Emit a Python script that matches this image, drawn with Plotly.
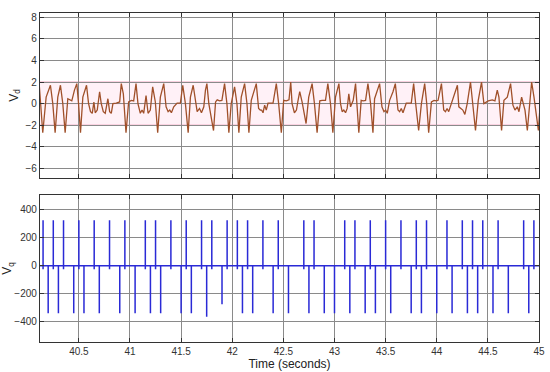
import plotly.graph_objects as go

# ---- Vd waveform (time in s, value) ----
vd_t = [40.114, 40.147, 40.180, 40.222, 40.245, 40.268, 40.294, 40.320, 40.343, 40.366,
        40.392, 40.408, 40.431, 40.457, 40.480, 40.497, 40.516, 40.539, 40.575, 40.595,
        40.614, 40.631, 40.647, 40.660, 40.680, 40.703, 40.719, 40.739, 40.758, 40.784,
        40.801, 40.817, 40.833, 40.866, 40.899, 40.915,
        40.935, 40.961, 40.987, 41.013, 41.036, 41.059, 41.078, 41.101, 41.118, 41.134,
        41.157, 41.177, 41.199, 41.222, 41.248, 41.271, 41.297, 41.330, 41.353, 41.373,
        41.389, 41.405, 41.428, 41.461, 41.493, 41.516, 41.542, 41.569, 41.591, 41.618,
        41.641, 41.657, 41.680, 41.699, 41.722, 41.738,
        41.752, 41.771, 41.817, 41.837, 41.853, 41.876, 41.899, 41.925, 41.948, 41.967,
        41.990, 42.023, 42.046, 42.065, 42.088, 42.121, 42.144, 42.163, 42.186, 42.235,
        42.258, 42.274, 42.287, 42.301, 42.317, 42.333, 42.350, 42.399, 42.431, 42.454,
        42.480, 42.503, 42.529, 42.555,
        42.572, 42.585, 42.608, 42.628, 42.641, 42.660, 42.683, 42.706, 42.722, 42.748,
        42.781, 42.804, 42.830, 42.856, 42.879, 42.912, 42.935, 42.961, 42.984, 43.010,
        43.043, 43.059, 43.075, 43.091, 43.108, 43.124, 43.140, 43.157, 43.183, 43.206,
        43.222, 43.238, 43.261, 43.281, 43.304, 43.327, 43.353, 43.376,
        43.392, 43.418, 43.441, 43.464, 43.484, 43.500, 43.516, 43.539, 43.572, 43.595,
        43.621, 43.637, 43.653, 43.670, 43.686, 43.702, 43.751, 43.774, 43.794, 43.823,
        43.850, 43.882, 43.902, 43.921, 43.948, 43.974, 43.997, 44.013, 44.046, 44.068,
        44.085, 44.101, 44.117, 44.144, 44.176, 44.202,
        44.216, 44.232, 44.255, 44.275, 44.298, 44.330, 44.353, 44.379, 44.406, 44.438,
        44.461, 44.504, 44.543, 44.569, 44.592, 44.608, 44.634, 44.657, 44.690, 44.722,
        44.745, 44.765, 44.788, 44.804, 44.830, 44.843, 44.863, 44.886, 44.909, 44.928,
        44.951, 44.974, 44.994, 45.010]
vd_v = [1.55, -2.7, 0.6, 1.7, 0.0, -2.7, 0.6, 1.7, 0.0, -2.7,
        0.45, 0.35, 0.25, 1.25, 1.85, 0.0, -2.7, 0.6, 1.7, 0.0,
        -0.75, -0.9, 0.15, -0.85, -0.6, 1.1, 0.0, -0.75, -0.9, 0.45,
        -0.75, -0.9, 0.0, 0.05, 0.15, 1.85,
        0.9, -2.7, 0.15, 0.3, 0.25, 1.85, 0.0, -0.9, -0.6, -0.9,
        0.75, -0.9, -0.6, 1.55, 0.15, -2.7, 0.6, 1.85, -0.3, -0.75,
        -0.6, -0.85, -0.3, 0.05, 0.05, 1.7, 0.0, -2.7, 0.6, 1.7,
        0.15, -0.75, -0.45, -0.85, -0.3, 1.25,
        1.85, 0.0, -2.5, 0.15, 0.35, 0.25, 0.3, 1.85, 0.0, -2.7,
        0.0, 1.55, 0.0, -2.7, 0.6, 1.85, 0.0, -2.7, 0.3, 1.85,
        -0.45, -0.6, -0.6, -0.85, -0.15, -0.6, 0.05, 0.05, 1.85, 0.0,
        -2.7, 0.3, 0.25, 0.35,
        2.0, 0.0, -0.85, -0.6, 0.15, 1.1, 0.15, -0.9, -1.85, 0.6,
        1.85, 0.0, -2.7, 0.25, 0.3, 0.3, 1.85, 0.0, -2.7, 0.6,
        1.85, 0.0, -0.75, -0.6, -0.85, -0.45, 0.9, -0.3, 0.3, 1.85,
        0.0, -2.7, 0.3, 0.25, 0.3, 1.85, 0.0, -2.7,
        0.45, 1.25, 1.85, -0.3, -0.75, -0.6, -0.9, 0.3, 1.1, 1.85,
        -0.6, -0.75, -0.45, -0.85, -0.3, 0.05, 0.05, 1.85, 0.0, -2.5,
        0.0, 1.85, 0.0, -2.7, 0.15, 0.3, 0.25, 0.3, 1.85, -0.6,
        -0.75, -0.45, -0.75, 0.0, 0.9, 1.7,
        -0.3, -0.45, -0.6, -1.0, 0.0, 2.0, 0.0, -2.5, 0.3, 2.0,
        0.0, 0.25, 0.35, 0.25, 1.25, 0.6, -2.5, 0.3, 0.6, 1.85,
        -0.15, -0.6, -0.3, -0.75, 0.6, 0.0, -0.6, -2.5, 0.3, 2.0,
        0.6, -0.9, -2.5, -0.3]

# ---- Vq spikes ----
vq_pos_t = [40.15, 40.25, 40.35, 40.5, 40.65, 40.8, 40.95, 41.15, 41.25, 41.4, 41.55,
            41.7, 41.8, 41.95, 42.05, 42.15, 42.3, 42.45, 42.7, 42.8, 43.1, 43.2, 43.35,
            43.5, 43.65, 43.8, 43.9, 44.1, 44.25, 44.35, 44.45, 44.6, 44.85, 44.95]
vq_pos_h = [320] * len(vq_pos_t)
vq_neg_t = [40.2, 40.3, 40.45, 40.55, 40.7, 40.9, 41.05, 41.2, 41.3, 41.5, 41.6,
            41.75, 41.9, 42.1, 42.2, 42.4, 42.55, 42.75, 42.9, 43.0, 43.15, 43.3, 43.4,
            43.55, 43.75, 43.85, 44.0, 44.15, 44.3, 44.4, 44.55, 44.7, 44.9]
vq_neg_h = [-345, -345, -345, -345, -345, -345, -345, -345, -345, -345, -345,
            -370, -280, -345, -345, -345, -345, -345, -345, -345, -345, -345, -345,
            -345, -345, -345, -345, -345, -345, -345, -345, -345, -345]
vq_base = -5
vq_dip = -30

events = sorted([(t, h, True) for t, h in zip(vq_pos_t, vq_pos_h)] +
                [(t, h, False) for t, h in zip(vq_neg_t, vq_neg_h)])
qx, qy = [40.1], [vq_base]
for t, h, pos in events:
    qx += [t, t, t, t]
    qy += [vq_base, h, vq_dip if pos else vq_base, vq_base]
qx.append(45.0)
qy.append(vq_base)

fig = go.Figure()

# faint pink band around the Vd trace
fig.add_shape(type="rect", xref="x", yref="y", x0=40.1, x1=45, y0=-2, y1=2,
              fillcolor="rgba(255,205,228,0.28)", line_width=0, layer="below")
for yv in [-2, 0, 2]:
    fig.add_shape(type="line", xref="x", yref="y", x0=40.1, x1=45, y0=yv, y1=yv,
                  line=dict(color="rgba(235,120,160,0.7)", width=1), layer="below")

fig.add_trace(go.Scatter(x=vd_t, y=vd_v, mode="lines",
                         line=dict(color="#a0502a", width=1.3),
                         xaxis="x", yaxis="y", showlegend=False))
fig.add_trace(go.Scatter(x=qx, y=qy, mode="lines",
                         line=dict(color="#2a2ad6", width=1.5),
                         xaxis="x2", yaxis="y2", showlegend=False))

axis_common = dict(showline=True, linecolor="#333", linewidth=1.2, mirror="ticks",
                   ticks="inside", ticklen=4, tickcolor="#333", automargin=False,
                   showgrid=True, gridcolor="#8a8a8a", gridwidth=1, zeroline=False,
                   tickfont=dict(family="Liberation Sans, Arial", size=10, color="#333"))

xr = [40.12, 45.0]
xt = [40.5, 41, 41.5, 42, 42.5, 43, 43.5, 44, 44.5, 45]

fig.update_layout(
    width=550, height=372,
    margin=dict(l=40, r=11, t=13, b=30),
    paper_bgcolor="white", plot_bgcolor="white",
    xaxis=dict(range=xr, tickvals=xt, showticklabels=False, anchor="y", **axis_common),
    yaxis=dict(range=[-6.9, 8.4], tickvals=[-6, -4, -2, 0, 2, 4, 6, 8],
               domain=[0.4985, 1.0], anchor="x",
               title=dict(text="V<sub>d</sub>", standoff=4,
                          font=dict(family="Liberation Sans, Arial", size=12, color="#222")),
               **axis_common),
    xaxis2=dict(range=xr, tickvals=xt, ticktext=["40.5", "41", "41.5", "42", "42.5",
                                                 "43", "43.5", "44", "44.5", "45"],
                anchor="y2",
                title=dict(text="Time (seconds)", standoff=2,
                           font=dict(family="Liberation Sans, Arial", size=12, color="#222")),
                **axis_common),
    yaxis2=dict(range=[-550, 500], tickvals=[-400, -200, 0, 200, 400],
                domain=[0.0, 0.4468], anchor="x2",
                title=dict(text="V<sub>q</sub>", standoff=2,
                           font=dict(family="Liberation Sans, Arial", size=12, color="#222")),
                **axis_common),
)

fig.write_html("out.html", config={"displayModeBar": False},
               post_script="document.body.style.margin='0';document.body.style.overflow='hidden';")
